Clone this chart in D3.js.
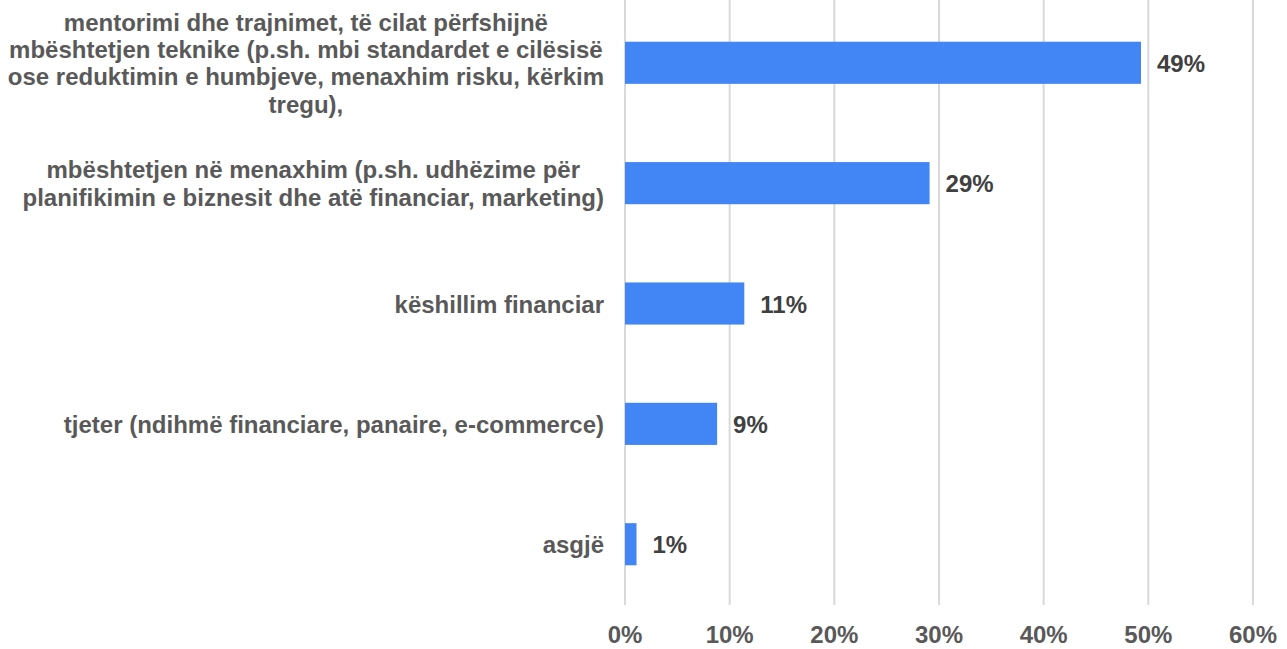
<!DOCTYPE html>
<html>
<head>
<meta charset="utf-8">
<script src="https://cdn.jsdelivr.net/npm/d3@7"></script>
<style>
  body { margin: 0; background: #fff; }
  text { font-family: "Liberation Sans", Arial, sans-serif; font-weight: bold; }
</style>
</head>
<body>
<svg id="chart" width="1287" height="649"></svg>
<script>
// categories, each split into the lines shown in the picture
const categories = [
    ["mentorimi dhe trajnimet, të cilat përfshijnë", "mbështetjen teknike (p.sh. mbi standardet e cilësisë", "ose reduktimin e humbjeve, menaxhim risku, kërkim", "tregu),"],
    ["mbështetjen në menaxhim (p.sh. udhëzime për", "planifikimin e biznesit dhe atë financiar, marketing)"],
    ["këshillim financiar"],
    ["tjeter (ndihmë financiare, panaire, e-commerce)"],
    ["asgjë"]
];
const values = [49.3, 29.1, 11.4, 8.8, 1.1];
const valueLabels = ["49%", "29%", "11%", "9%", "1%"];
const ticks = [0, 10, 20, 30, 40, 50, 60];

const svg = d3.select("#chart");
const plotLeft = 625, plotRight = 1253, plotTop = 2, plotBottom = 605;

const x = d3.scaleLinear().domain([0, 60]).range([plotLeft, plotRight]);
const y = d3.scaleBand().domain(d3.range(values.length)).range([plotTop, plotBottom]).paddingInner(0.65).paddingOuter(0.33);

// gridlines
svg.append("g").selectAll("line")
    .data(ticks)
    .enter()
    .append("line")
    .attr("x1", d => x(d)).attr("x2", d => x(d))
    .attr("y1", 0).attr("y2", plotBottom)
    .style("stroke", "#d9d9d9")
    .style("stroke-width", 2);

// x axis tick labels
svg.append("g").selectAll("text")
    .data(ticks)
    .enter()
    .append("text")
    .attr("x", d => x(d))
    .attr("y", 643)
    .attr("text-anchor", "middle")
    .style("font-size", "24px")
    .style("fill", "#595959")
    .text(d => d + "%");

// bars
svg.append("g").selectAll(".bar")
    .data(values)
    .enter()
    .append("rect")
    .attr("class", "bar")
    .attr("x", x(0))
    .attr("y", (d, i) => y(i))
    .attr("width", d => x(d) - x(0))
    .attr("height", y.bandwidth())
    .style("fill", "#4285f4");

// value labels
svg.append("g").selectAll("text")
    .data(values)
    .enter()
    .append("text")
    .attr("x", d => x(d) + 16)
    .attr("y", (d, i) => y(i) + y.bandwidth() / 2 + 9)
    .style("font-size", "24px")
    .style("fill", "#404040")
    .text((d, i) => valueLabels[i]);

// category labels, centred lines in a block whose right edge sits at 604
const lineH = 27.3;
categories.forEach((lines, i) => {
    const cy = y(i) + y.bandwidth() / 2;
    const t = svg.append("text")
        .attr("text-anchor", "middle")
        .style("font-size", "24px")
        .style("fill", "#595959");
    lines.forEach((ln, j) => {
        t.append("tspan")
            .attr("x", 0)
            .attr("y", cy + 9 + (j - (lines.length - 1) / 2) * lineH)
            .text(ln);
    });
    let w = 0;
    t.selectAll("tspan").each(function () { w = Math.max(w, this.getComputedTextLength()); });
    t.selectAll("tspan").attr("x", 604 - w / 2);
});
</script>
</body>
</html>
